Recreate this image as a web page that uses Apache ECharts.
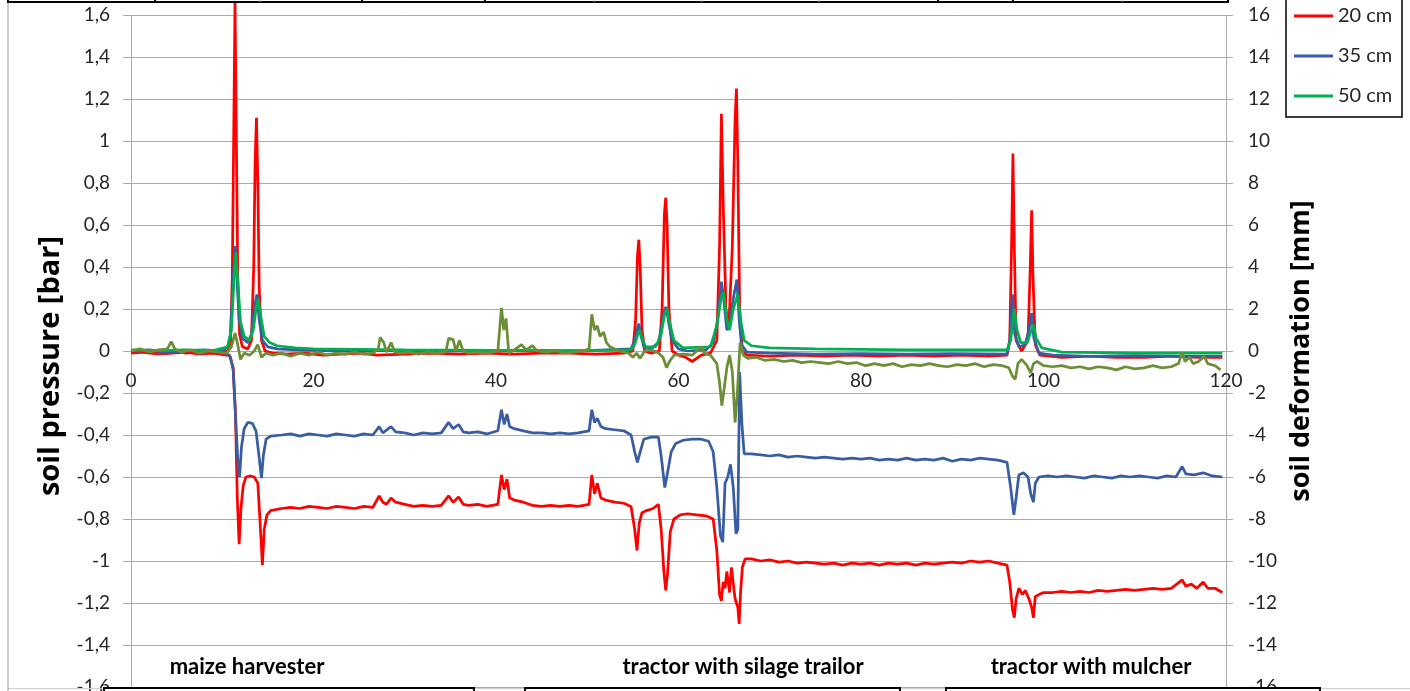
<!DOCTYPE html>
<html>
<head>
<meta charset="utf-8">
<script src="https://cdn.jsdelivr.net/npm/echarts@6/dist/echarts.min.js"></script>
<style>
html,body{margin:0;padding:0;background:#fff;}
#chart{width:1410px;height:691px;}
</style>
</head>
<body>
<div id="chart"></div>
<script>
// ---------- DATA ----------
const seriesNames = ['20 cm', '35 cm', '50 cm'];
const leftAxisTitle = 'soil pressure [bar]';
const rightAxisTitle = 'soil deformation [mm]';
const vehicleLabels = ['maize harvester', 'tractor with silage trailor', 'tractor with mulcher'];

// soil pressure [bar] (left axis), x = time [s]
const p20 = [[0,-0.005],[1,0],[2,-0.01],[3,0],[4,-0.005],[5,0],[6,-0.01],[7,-0.005],[8,0],[9,-0.01],[10,-0.005],[10.6,0],[10.9,0.03],[11.1,0.35],[11.25,1.0],[11.4,1.66],[11.55,1.0],[11.7,0.35],[11.9,0.08],[12.2,0.02],[12.8,0.01],[13.2,0.05],[13.45,0.4],[13.6,0.9],[13.75,1.11],[13.9,0.8],[14.05,0.3],[14.3,0.05],[14.7,0],[15.5,-0.01],[17,-0.015],[19,-0.01],[21,-0.02],[23,-0.015],[25,-0.01],[27,-0.02],[30,-0.015],[33,-0.01],[36,-0.015],[39,-0.01],[42,-0.015],[45,-0.01],[48,-0.01],[51,-0.015],[54,-0.01],[55.0,0],[55.3,0.15],[55.5,0.45],[55.65,0.53],[55.8,0.4],[56.0,0.1],[56.3,0],[57,-0.01],[57.9,0],[58.2,0.2],[58.45,0.65],[58.6,0.73],[58.75,0.6],[58.95,0.2],[59.3,0],[60,-0.02],[60.8,-0.03],[61.5,-0.05],[62.5,-0.02],[63.5,-0.01],[64.2,0.05],[64.5,0.5],[64.7,1.13],[64.9,0.7],[65.2,0.2],[65.5,0.1],[65.9,0.5],[66.2,1.1],[66.35,1.25],[66.5,0.9],[66.7,0.2],[67.0,0],[67.5,-0.02],[70,-0.025],[73,-0.02],[76,-0.025],[79,-0.02],[82,-0.025],[85,-0.02],[88,-0.025],[91,-0.02],[94,-0.025],[96.0,-0.02],[96.3,0.05],[96.5,0.5],[96.65,0.94],[96.8,0.5],[97.0,0.05],[97.6,0],[98.3,0.05],[98.55,0.4],[98.7,0.67],[98.85,0.35],[99.1,0.03],[99.6,-0.02],[102,-0.03],[105,-0.025],[108,-0.03],[111,-0.03],[114,-0.025],[117,-0.03],[119.6,-0.03]];

const p35 = [[0,0],[2,0.005],[4,-0.005],[6,0],[8,0.005],[10,0],[10.6,0.02],[10.9,0.08],[11.15,0.3],[11.4,0.5],[11.6,0.35],[11.85,0.15],[12.2,0.06],[12.8,0.04],[13.2,0.08],[13.5,0.2],[13.8,0.27],[14.05,0.15],[14.4,0.05],[15,0.02],[16,0.01],[18,0.005],[22,0],[26,0.003],[30,0],[34,0.002],[38,0],[42,0.003],[46,0],[50,0.002],[54.8,0.01],[55.2,0.05],[55.5,0.11],[55.65,0.13],[55.85,0.08],[56.2,0.02],[57,0.01],[57.8,0.04],[58.2,0.13],[58.5,0.2],[58.65,0.21],[58.9,0.14],[59.3,0.05],[60,0.01],[61,0],[63,0.005],[63.8,0.04],[64.3,0.15],[64.7,0.33],[64.95,0.25],[65.3,0.1],[65.6,0.12],[66.0,0.25],[66.4,0.34],[66.65,0.15],[66.9,0.03],[67.5,-0.005],[70,-0.01],[75,-0.015],[80,-0.012],[85,-0.015],[90,-0.013],[96,-0.015],[96.3,0.05],[96.6,0.27],[96.85,0.08],[97.3,0.02],[98.0,0.03],[98.4,0.1],[98.7,0.18],[98.95,0.06],[99.5,-0.01],[101,-0.02],[105,-0.025],[110,-0.022],[115,-0.025],[119.6,-0.025]];

const p50 = [[0,0.005],[3,0.002],[6,0.005],[9,0.002],[10.6,0.02],[11.0,0.1],[11.3,0.35],[11.5,0.47],[11.7,0.33],[12.0,0.14],[12.4,0.07],[13.0,0.05],[13.4,0.1],[13.7,0.2],[13.95,0.25],[14.2,0.17],[14.6,0.07],[15.2,0.04],[16,0.025],[18,0.015],[20,0.01],[25,0.008],[30,0.005],[35,0.004],[40,0.003],[45,0.003],[50,0.002],[54.8,0.005],[55.2,0.03],[55.55,0.08],[55.75,0.1],[56.0,0.06],[56.4,0.02],[57.5,0.02],[58.1,0.08],[58.5,0.18],[58.75,0.2],[59.0,0.14],[59.5,0.05],[60.5,0.015],[63.5,0.02],[64.2,0.12],[64.7,0.26],[64.95,0.28],[65.3,0.15],[65.6,0.1],[66.0,0.2],[66.5,0.27],[66.8,0.15],[67.2,0.05],[68,0.025],[70,0.015],[75,0.01],[85,0.005],[96,0.005],[96.4,0.05],[96.8,0.2],[97.1,0.1],[97.5,0.04],[98.2,0.04],[98.6,0.09],[98.9,0.125],[99.2,0.06],[99.8,0.015],[102,-0.005],[110,-0.01],[119.6,-0.01]];

// soil deformation [mm] (right axis)
const d20 = [[0,-0.1],[1.5,-0.05],[3,-0.15],[4.5,-0.1],[6,-0.05],[7.5,-0.15],[9,-0.1],[10.5,-0.2],[10.8,-0.2],[11.2,-0.8],[11.45,-3.0],[11.65,-7.0],[11.85,-9.2],[12.05,-7.5],[12.3,-6.4],[12.6,-6.0],[13.0,-5.95],[13.5,-6.0],[13.9,-6.3],[14.1,-7.8],[14.4,-10.2],[14.6,-8.5],[14.9,-7.8],[15.3,-7.6],[16.5,-7.5],[17.5,-7.45],[18.5,-7.5],[19.5,-7.4],[20.5,-7.45],[21.5,-7.5],[22.5,-7.4],[23.5,-7.45],[24.5,-7.5],[25.5,-7.4],[26.5,-7.45],[27.2,-6.9],[27.6,-7.2],[28,-7.3],[28.5,-7.0],[29,-7.2],[30,-7.3],[31,-7.4],[32,-7.35],[33,-7.4],[34,-7.35],[34.8,-6.9],[35.3,-7.2],[35.9,-6.95],[36.4,-7.3],[37,-7.35],[38,-7.3],[39,-7.4],[40.2,-7.3],[40.6,-5.9],[40.9,-6.6],[41.2,-6.1],[41.5,-7.0],[42,-7.1],[43,-7.2],[44,-7.35],[45,-7.4],[46,-7.35],[47,-7.4],[48,-7.35],[49,-7.4],[50.2,-7.3],[50.5,-5.9],[50.8,-6.8],[51.1,-6.3],[51.5,-7.0],[52,-7.1],[53,-7.2],[54,-7.25],[54.8,-7.4],[55.2,-8.5],[55.45,-9.5],[55.7,-8.2],[56,-7.7],[56.5,-7.6],[57.2,-7.5],[57.8,-7.3],[58.1,-8.5],[58.4,-10.5],[58.6,-11.4],[58.8,-10.6],[59.1,-8.6],[59.5,-8.0],[60.2,-7.8],[61,-7.75],[62,-7.8],[63,-7.85],[63.8,-8.0],[64.2,-9.5],[64.5,-11.6],[64.7,-11.9],[64.9,-11.0],[65.1,-11.3],[65.3,-10.5],[65.6,-11.5],[65.8,-10.3],[66.2,-11.8],[66.5,-12.2],[66.65,-13.0],[66.8,-11.5],[67.0,-10.3],[67.3,-9.9],[68,-9.9],[69,-10.0],[70,-9.95],[71,-10.05],[72,-10.0],[73,-10.1],[74,-10.05],[75,-10.1],[76,-10.15],[77,-10.1],[78,-10.2],[79,-10.1],[80,-10.15],[81,-10.1],[82,-10.2],[83,-10.1],[84,-10.15],[85,-10.1],[86,-10.2],[87,-10.1],[88,-10.15],[89,-10.1],[90,-10.05],[91,-10.1],[92,-10.0],[93,-10.05],[94,-10.0],[95,-10.1],[96.0,-10.2],[96.3,-11.0],[96.6,-12.3],[96.8,-12.7],[97.0,-11.8],[97.3,-11.3],[97.7,-11.6],[98.0,-11.4],[98.4,-11.8],[98.7,-12.2],[98.9,-12.7],[99.1,-11.7],[99.5,-11.6],[100,-11.5],[101,-11.5],[102,-11.45],[103,-11.5],[104,-11.45],[105,-11.5],[106,-11.4],[107,-11.45],[108,-11.4],[109,-11.35],[110,-11.4],[111,-11.35],[112,-11.3],[113,-11.35],[114,-11.3],[115.2,-10.9],[115.6,-11.2],[116.2,-11.1],[116.8,-11.3],[117.5,-11.0],[118,-11.3],[118.8,-11.3],[119.6,-11.5]];

const d35 = [[0,-0.05],[1.5,0],[3,-0.1],[4.5,-0.05],[6,0],[7.5,-0.1],[9,-0.05],[10.5,-0.1],[10.9,-0.3],[11.2,-0.9],[11.5,-3.5],[11.75,-5.6],[11.9,-6.0],[12.1,-4.6],[12.4,-3.7],[12.8,-3.4],[13.3,-3.45],[13.7,-3.8],[14.0,-4.9],[14.3,-6.05],[14.5,-5.0],[14.8,-4.2],[15.3,-4.05],[16.5,-4.0],[17.5,-3.95],[18.5,-4.05],[19.5,-3.95],[20.5,-4.0],[21.5,-4.05],[22.5,-3.95],[23.5,-4.0],[24.5,-4.05],[25.5,-3.95],[26.5,-4.0],[27.2,-3.6],[27.6,-3.9],[28.5,-3.6],[29,-3.85],[30,-3.9],[31,-4.0],[32,-3.9],[33,-3.95],[34,-3.9],[34.8,-3.4],[35.3,-3.7],[35.9,-3.5],[36.4,-3.85],[37,-3.9],[38,-3.85],[39,-3.95],[40.2,-3.8],[40.6,-2.8],[40.9,-3.5],[41.2,-3.0],[41.5,-3.6],[42,-3.7],[43,-3.8],[44,-3.9],[45,-3.9],[46,-3.95],[47,-3.9],[48,-3.95],[49,-3.9],[50.2,-3.8],[50.5,-2.8],[50.8,-3.4],[51.1,-3.2],[51.5,-3.6],[52,-3.7],[53,-3.75],[54,-3.8],[54.8,-4.0],[55.2,-4.8],[55.5,-5.3],[55.8,-4.8],[56.2,-4.2],[57,-4.1],[57.8,-4.1],[58.1,-5.0],[58.5,-6.5],[58.8,-5.8],[59.2,-4.8],[59.7,-4.4],[60.5,-4.25],[61.5,-4.2],[62.5,-4.2],[63.3,-4.3],[63.8,-4.8],[64.2,-6.5],[64.6,-8.8],[64.85,-9.1],[65.1,-6.3],[65.4,-6.0],[65.7,-5.4],[66.0,-6.5],[66.3,-8.7],[66.5,-8.5],[66.7,-1.0],[66.95,-3.5],[67.2,-4.9],[68,-4.9],[69,-4.95],[70,-5.0],[71,-4.95],[72,-5.05],[73,-5.0],[74,-5.05],[75,-5.1],[76,-5.05],[77,-5.1],[78,-5.15],[79,-5.1],[80,-5.15],[81,-5.1],[82,-5.2],[83,-5.15],[84,-5.2],[85,-5.1],[86,-5.2],[87,-5.15],[88,-5.2],[89,-5.1],[90,-5.25],[91,-5.15],[92,-5.2],[93,-5.1],[94,-5.15],[95,-5.2],[96.0,-5.3],[96.4,-6.5],[96.75,-7.8],[97.0,-7.0],[97.3,-5.9],[97.8,-5.8],[98.3,-6.0],[98.6,-6.8],[98.9,-7.2],[99.1,-6.3],[99.5,-6.0],[100.5,-5.95],[101.5,-6.0],[102.5,-5.95],[103.5,-6.0],[104.5,-6.05],[105.5,-5.95],[106.5,-6.0],[107.5,-6.05],[108.5,-5.95],[109.5,-6.0],[110.5,-5.95],[111.5,-6.0],[112.5,-6.05],[113.5,-5.95],[114.5,-6.0],[115.2,-5.5],[115.6,-5.85],[116.5,-5.9],[117.5,-5.8],[118.5,-5.95],[119.6,-6.0]];

const d50 = [[0,0],[1,0.1],[2,-0.05],[3,0.05],[4,0.1],[4.4,0.45],[4.8,0.1],[5.5,-0.05],[6.5,0.05],[7.5,-0.1],[8.5,0],[9.5,-0.05],[10.5,-0.1],[11.0,0.2],[11.4,0.85],[11.7,0.3],[12.0,-0.4],[12.4,-0.1],[13.0,-0.2],[13.5,0],[13.9,0.3],[14.3,-0.3],[14.8,-0.1],[15.5,-0.2],[16.5,-0.1],[17.5,-0.25],[18.5,-0.1],[19.5,-0.2],[20.5,-0.05],[21.5,-0.2],[22.5,-0.1],[23.5,-0.15],[24.5,-0.05],[25.5,-0.15],[26.5,-0.1],[27.1,0.1],[27.3,0.65],[27.7,0.4],[28,-0.05],[28.5,0.4],[28.9,-0.05],[29.5,-0.1],[30.5,-0.05],[31.5,-0.15],[32.5,-0.05],[33.5,-0.1],[34.5,-0.05],[34.8,0.6],[35.3,0.55],[35.6,0],[36.0,0.5],[36.4,0],[37,-0.1],[38,-0.05],[39,-0.1],[40.2,0],[40.6,2.05],[40.85,1.0],[41.1,1.55],[41.4,-0.1],[42,0.05],[42.8,0.3],[43.3,0.05],[44,0.25],[44.5,0],[45.5,-0.05],[46.5,0],[47.5,-0.1],[48.5,-0.05],[49.5,0],[50.2,0.1],[50.5,1.75],[50.8,1.0],[51.1,1.2],[51.4,0.7],[51.8,0.9],[52.1,0.4],[52.5,0.2],[53,0.1],[53.5,0],[54.5,-0.1],[55.0,-0.3],[55.4,-0.1],[55.8,-0.35],[56.3,0],[57,0.05],[57.8,-0.1],[58.3,-0.3],[58.7,-0.8],[59.0,-0.5],[59.5,-0.2],[60.5,-0.15],[61.5,-0.2],[62.5,0.2],[62.8,-0.1],[63.5,-0.2],[64.2,-0.6],[64.5,-1.5],[64.75,-2.6],[65.0,-1.8],[65.3,-0.8],[65.6,-0.2],[65.9,-1.0],[66.2,-3.4],[66.45,-2.0],[66.75,0.4],[67.1,-0.2],[67.6,-0.35],[68.5,-0.3],[69.5,-0.45],[70.5,-0.4],[71.5,-0.5],[72.5,-0.45],[73.5,-0.55],[74.5,-0.5],[75.5,-0.55],[76.5,-0.6],[77.5,-0.5],[78.5,-0.6],[79.5,-0.55],[80.5,-0.7],[81.5,-0.6],[82.5,-0.7],[83.5,-0.6],[84.5,-0.75],[85.5,-0.65],[86.5,-0.7],[87.5,-0.6],[88.5,-0.7],[89.5,-0.75],[90.5,-0.65],[91.5,-0.7],[92.5,-0.6],[93.5,-0.75],[94.5,-0.65],[95.5,-0.7],[96.2,-0.8],[96.6,-1.2],[96.9,-1.35],[97.2,-0.6],[97.6,-0.4],[98.2,-0.7],[98.6,-1.05],[98.9,-0.6],[99.3,-0.5],[100,-0.7],[101,-0.75],[102,-0.7],[103,-0.8],[104,-0.75],[105,-0.85],[106,-0.75],[107,-0.8],[108,-0.9],[109,-0.75],[110,-0.85],[111,-0.8],[112,-0.7],[113,-0.8],[114,-0.75],[114.8,-0.6],[115.2,-0.05],[115.5,-0.5],[116,-0.3],[116.4,-0.6],[117,-0.5],[117.6,-0.25],[118,-0.6],[118.8,-0.7],[119.4,-0.9]];

// ---------- CHART ----------
const FONT = 'Lato, "Open Sans", sans-serif';
const TITLEFONT = '"Open Sans", Lato, sans-serif';
const TXT = '#262626';
const GRIDC = '#ababab';
const chart = echarts.init(document.getElementById('chart'), null, {renderer: 'canvas'});

function lineSeries(name, data, color, yIdx, z, clip) {
  return {
    name: name, type: 'line', data: data, xAxisIndex: 0, yAxisIndex: yIdx,
    showSymbol: false, symbol: 'none', clip: clip !== false, z: z,
    lineStyle: {color: color, width: 2.75}, itemStyle: {color: color},
    emphasis: {disabled: true}
  };
}

const option = {
  animation: false,
  backgroundColor: '#ffffff',
  textStyle: {fontFamily: FONT},
  grid: [
    // main plot area
    {left: 131, right: 184, top: 15, bottom: 4, containLabel: false, outerBoundsMode: 'none'},
    // helper grid whose bottom edge sits on the zero line: carries the x tick labels
    {left: 131, right: 184, top: 15, height: 336, containLabel: false, outerBoundsMode: 'none'}
  ],
  legend: {
    data: seriesNames, orient: 'vertical', left: 1294, top: 6,
    icon: 'rect', itemWidth: 39, itemHeight: 3, itemGap: 20, padding: 0,
    textStyle: {fontFamily: FONT, fontSize: 20, color: TXT, lineHeight: 20}
  },
  xAxis: [
    {
      gridIndex: 0, type: 'value', min: 0, max: 120, interval: 20,
      axisLine: {show: false, onZero: false}, axisTick: {show: false},
      splitLine: {show: false}, axisLabel: {show: false}
    },
    {
      gridIndex: 1, type: 'value', min: 0, max: 120, interval: 20, position: 'bottom',
      axisLine: {show: false, onZero: false}, axisTick: {show: false},
      splitLine: {show: false},
      axisLabel: {fontFamily: FONT, fontSize: 19, color: TXT, margin: 20}
    }
  ],
  yAxis: [
    {
      gridIndex: 0, type: 'value', min: -1.6, max: 1.6, interval: 0.2, position: 'left',
      name: leftAxisTitle, nameLocation: 'middle', nameRotate: 90, nameGap: 66,
      nameTextStyle: {fontFamily: TITLEFONT, fontSize: 29, fontWeight: 'bold', color: '#000', padding: [0, 30, 0, 0]},
      axisLine: {show: true, onZero: false, lineStyle: {color: GRIDC}},
      axisTick: {show: true, length: 8, lineStyle: {color: GRIDC}},
      splitLine: {show: true, lineStyle: {color: GRIDC, width: 1}},
      axisLabel: {fontFamily: FONT, fontSize: 19, color: TXT, margin: 21,
        formatter: v => String(Math.round(v * 10) / 10).replace('.', ',')}
    },
    {
      gridIndex: 0, type: 'value', min: -16, max: 16, interval: 2, position: 'right',
      name: rightAxisTitle, nameLocation: 'middle', nameRotate: 90, nameGap: 60,
      nameTextStyle: {fontFamily: TITLEFONT, fontSize: 27, fontWeight: 'bold', color: '#000'},
      axisLine: {show: true, onZero: false, lineStyle: {color: GRIDC}},
      axisTick: {show: true, length: 7, lineStyle: {color: GRIDC}},
      splitLine: {show: false},
      axisLabel: {fontFamily: FONT, fontSize: 19, color: TXT, margin: 22}
    },
    {
      gridIndex: 1, type: 'value', min: 0, max: 1, show: false
    }
  ],
  series: [
    lineSeries('20 cm def', d20, '#ff0000', 1, 2),
    lineSeries('35 cm def', d35, '#3a5ca3', 1, 3),
    lineSeries('20 cm', p20, '#ff0000', 0, 4, false),
    lineSeries('35 cm', p35, '#3a5ca3', 0, 5),
    lineSeries('50 cm', p50, '#00b050', 0, 6),
    lineSeries('50 cm def', d50, '#6b8e37', 1, 7)
  ],
  graphic: [
    // spreadsheet cell borders at top
    {type: 'line', z: 100, shape: {x1: 8, y1: 2, x2: 1228, y2: 2}, style: {stroke: '#000', lineWidth: 2}},
    ...[8, 155, 362, 485, 938, 1013, 1228].map(x => ({type: 'line', z: 100, shape: {x1: x, y1: 0, x2: x, y2: 3}, style: {stroke: '#000', lineWidth: 2}})),
    ...[260, 594, 702, 819, 1122].map(x => ({type: 'line', z: 100, shape: {x1: x, y1: 0, x2: x, y2: 2}, style: {stroke: '#bbb', lineWidth: 1}})),
    {type: 'line', z: 100, shape: {x1: 8, y1: 3, x2: 8, y2: 691}, style: {stroke: '#9a9a9a', lineWidth: 1}},
    // legend border
    {type: 'rect', z: 100, shape: {x: 1286, y: -5, width: 116, height: 122}, style: {fill: 'none', stroke: '#000', lineWidth: 1.5}},
    // bottom shapes
    {type: 'line', z: 99, shape: {x1: 8, y1: 688.5, x2: 1410, y2: 688.5}, style: {stroke: '#cfcfcf', lineWidth: 1}},
    {type: 'rect', z: 100, shape: {x: 104, y: 688, width: 370, height: 12}, style: {fill: '#fff', stroke: '#000', lineWidth: 2}},
    {type: 'rect', z: 100, shape: {x: 525, y: 688, width: 375, height: 12}, style: {fill: '#fff', stroke: '#000', lineWidth: 2}},
    {type: 'rect', z: 100, shape: {x: 946, y: 688, width: 374, height: 12}, style: {fill: '#fff', stroke: '#000', lineWidth: 2}},
    {type: 'text', z: 100, x: 247, y: 667, style: {text: vehicleLabels[0], fontFamily: FONT, fontSize: 22, fontWeight: 'bold', fill: '#000', align: 'center', verticalAlign: 'middle'}},
    {type: 'text', z: 100, x: 743, y: 667, style: {text: vehicleLabels[1], fontFamily: FONT, fontSize: 22, fontWeight: 'bold', fill: '#000', align: 'center', verticalAlign: 'middle'}},
    {type: 'text', z: 100, x: 1091, y: 667, style: {text: vehicleLabels[2], fontFamily: FONT, fontSize: 22, fontWeight: 'bold', fill: '#000', align: 'center', verticalAlign: 'middle'}}
  ]
};
chart.setOption(option);
</script>
</body>
</html>
